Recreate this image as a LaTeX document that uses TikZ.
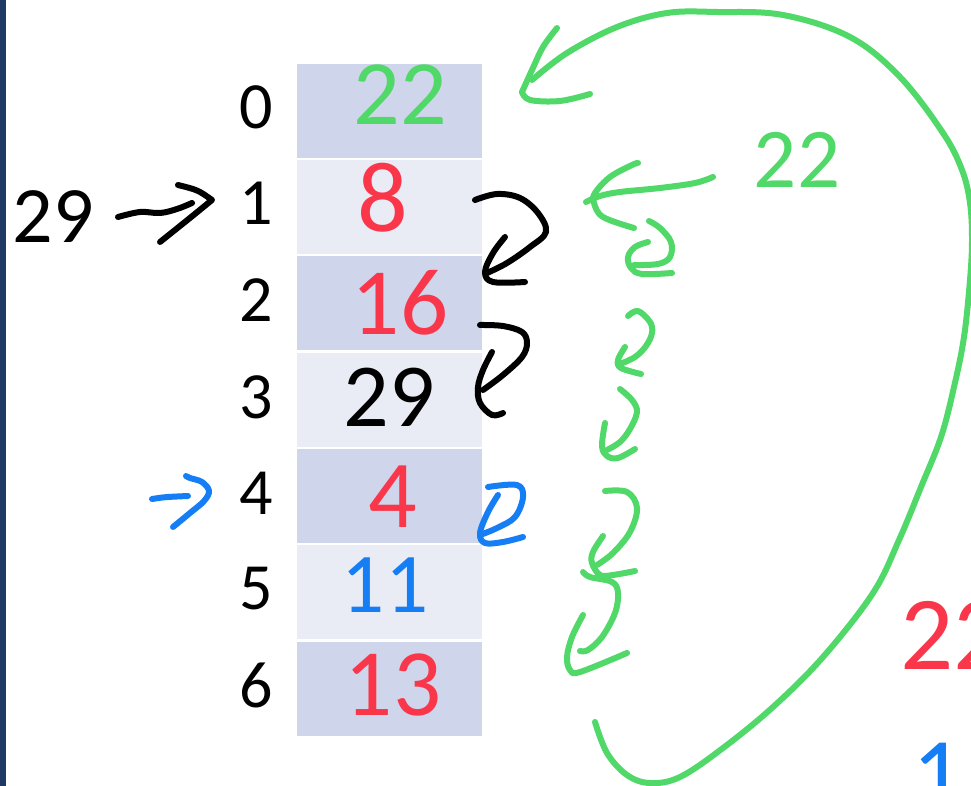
\documentclass[tikz,border=0pt]{standalone}
\usepackage{fontspec}
\setmainfont{Carlito}
\definecolor{navy}{RGB}{31,56,100}
\definecolor{rowdark}{RGB}{207,213,234}
\definecolor{rowlight}{RGB}{233,235,245}
\definecolor{pgreen}{RGB}{80,216,104}
\definecolor{pred}{RGB}{250,54,74}
\definecolor{pblue}{RGB}{22,126,245}
\tikzset{
  cellD/.style={fill=rowdark, draw=none, minimum width=185pt, minimum height=94pt, inner sep=0pt},
  cellL/.style={fill=rowlight, draw=none, minimum width=185pt, minimum height=94pt, inner sep=0pt},
  idx/.style={inner sep=0pt, text=black, font=\fontsize{66}{66}\selectfont},
  hw/.style={inner sep=0pt, font=\fontsize{#1}{#1}\selectfont},
  pen/.style={line width=6pt, line cap=round, line join=round},
  sm/.style={smooth, tension=0.6}
}
\begin{document}
\begin{tikzpicture}[x=1pt,y=-1pt]
\useasboundingbox (0,0) rectangle (971,786);
\fill[white] (0,0) rectangle (971,786);
\fill[navy] (0,0) rectangle (6,786);

% table rows
\node[cellD] (r0) at (389.5,111) {};
\node[cellL] (r1) at (389.5,207) {};
\node[cellD] (r2) at (389.5,303) {};
\node[cellL] (r3) at (389.5,400) {};
\node[cellD] (r4) at (389.5,496) {};
\node[cellL] (r5) at (389.5,592) {};
\node[cellD] (r6) at (389.5,689) {};

% index labels
\node[idx] (i0) at (256,107) {0};
\node[idx] (i1) at (256,203) {1};
\node[idx] (i2) at (256,300) {2};
\node[idx] (i3) at (256,397) {3};
\node[idx] (i4) at (256,493) {4};
\node[idx] (i5) at (256,589) {5};
\node[idx] (i6) at (256,685) {6};

% handwritten values
\node[hw=92, text=pgreen] (v0) at (400,95) {22};
\node[hw=100, text=pred] (v1) at (383,198) {8};
\node[hw=95, text=pred] (v2) at (400,303) {16};
\node[hw=90, text=black] (v3) at (389,397) {29};
\node[hw=96, text=pred] (v4) at (393,497) {4};
\node[hw=85, text=pblue] (v5) at (385,585) {11};
\node[hw=95, text=pred] (v6) at (393,685) {13};

\node[hw=80, text=black] (key) at (53,217) {29};
\node[hw=85, text=pgreen] (g22) at (797,160) {22};
\node[hw=105, anchor=west, text=pred] (r22) at (900,635) {22};
\node[hw=100, text=pblue] (b1) at (938,775) {1};

% black arrow 29 -> 1
\draw[pen] plot[sm] coordinates {(118,217) (140,212) (160,213) (177,209) (192,203)};
\draw[pen] (178,185) .. controls (198,190) .. (212,200) .. controls (190,218) .. (160,242);

% blue arrow at 4
\draw[pen, pblue] (152,499) .. controls (165,497) .. (188,496);
\draw[pen, pblue] plot[sm] coordinates {(186,476) (190,478) (202,482) (209,491) (204,501) (190,513) (173,527)};

% black curved arrows
\draw[pen] plot[sm] coordinates {(475,200) (497,194) (520,198) (538,213) (546,232) (530,247) (507,263) (487,273)};
\draw[pen] plot[sm] coordinates {(505,237) (493,253) (485,272) (493,282) (525,282)};
\draw[pen] plot[sm] coordinates {(480,325) (503,326) (522,332) (527,343) (522,357) (503,375) (483,390)};
\draw[pen] plot[sm] coordinates {(492,352) (483,370) (478,387) (480,403) (492,415) (503,413)};

% blue curl
\draw[pen, pblue] plot[sm] coordinates {(488,487) (517,485) (523,497) (515,517) (497,528) (480,535)};
\draw[pen, pblue] plot[sm] coordinates {(498,495) (488,512) (480,533) (485,543) (503,542) (523,537)};

% green arrow from 22
\draw[pen, pgreen] plot[sm] coordinates {(713,177) (695,183) (660,188) (620,192) (600,196) (586,202)};
\draw[pen, pgreen] plot[sm] coordinates {(638,163) (632,165) (610,177) (595,193) (594,203) (603,217) (634,228)};

% small green arrows
\draw[pen, pgreen] plot[sm] coordinates {(649,221) (660,228) (671,242) (670,257) (658,264) (634,265)};
\draw[pen, pgreen] plot[sm] coordinates {(648,242) (635,247) (628,257) (631,268) (642,274) (672,273)};
\draw[pen, pgreen] plot[sm] coordinates {(628,316) (638,311) (650,322) (652,333) (646,346) (635,357) (620,364)};
\draw[pen, pgreen] plot[sm] coordinates {(625,347) (618,360) (621,368) (641,374)};
\draw[pen, pgreen] plot[sm] coordinates {(620,389) (632,400) (637,412) (630,429) (620,442) (607,450)};
\draw[pen, pgreen] plot[sm] coordinates {(605,423) (602,446) (607,456) (618,458) (635,449)};
\draw[pen, pgreen] plot[sm] coordinates {(605,491) (627,492) (637,508) (630,532) (613,553) (597,565)};
\draw[pen, pgreen] plot[sm] coordinates {(603,536) (593,552) (592,563) (600,575) (613,575) (635,571)};
\draw[pen, pgreen] plot[sm] coordinates {(583,572) (590,577) (612,582) (618,593) (615,613) (602,637) (588,650) (580,651)};
\draw[pen, pgreen] plot[sm] coordinates {(583,615) (572,637) (567,657) (570,670) (580,672) (627,653)};

% big green arc back to slot 0
\draw[pen, pgreen] plot[smooth, tension=0.6] coordinates {(595,722) (607,753) (627,775) (650,783) (680,777) (723,748) (773,707) (823,657) (873,593) (899,540) (921,487) (941,437) (954,387) (964,337) (970,280) (972,240) (970,203) (962,170) (943,133) (900,77) (850,37) (783,15) (717,12) (667,13) (617,27) (567,53) (532,80)};
\draw[pen, pgreen] plot[sm] coordinates {(557,28) (543,47) (532,70) (522,92)};
\draw[pen, pgreen] plot[sm] coordinates {(522,92) (530,100) (560,101) (590,94)};
\end{tikzpicture}
\end{document}
